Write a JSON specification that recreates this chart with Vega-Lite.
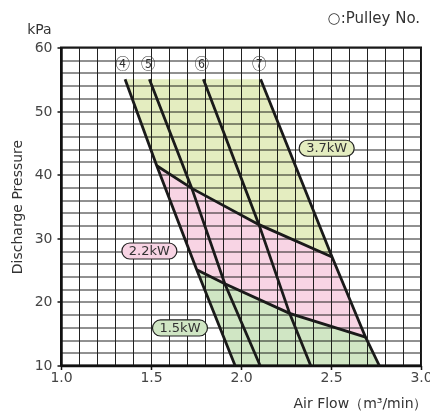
{
  "$schema": "https://vega.github.io/schema/vega-lite/v6.json",
  "width": 360,
  "height": 318,
  "autosize": {"type": "none"},
  "padding": {"left": 61, "top": 47.5, "right": 9, "bottom": 48.5},
  "background": "white",
  "config": {
    "view": {"stroke": "#111", "strokeWidth": 2},
    "font": "DejaVu Sans",
    "text": {"font": "DejaVu Sans"}
  },
  "datasets": {
    "regions": [
      {"region": "3.7kW", "ord": 1, "x": 1.356, "y": 55},
      {"region": "3.7kW", "ord": 2, "x": 2.109, "y": 55},
      {"region": "3.7kW", "ord": 3, "x": 2.506, "y": 27.05},
      {"region": "3.7kW", "ord": 4, "x": 2.1, "y": 32.15},
      {"region": "3.7kW", "ord": 5, "x": 1.727, "y": 37.85},
      {"region": "3.7kW", "ord": 6, "x": 1.532, "y": 41.4},
      {"region": "2.2kW", "ord": 1, "x": 1.532, "y": 41.4},
      {"region": "2.2kW", "ord": 2, "x": 1.727, "y": 37.85},
      {"region": "2.2kW", "ord": 3, "x": 2.1, "y": 32.15},
      {"region": "2.2kW", "ord": 4, "x": 2.506, "y": 27.05},
      {"region": "2.2kW", "ord": 5, "x": 2.692, "y": 14.45},
      {"region": "2.2kW", "ord": 6, "x": 2.27, "y": 18.2},
      {"region": "2.2kW", "ord": 7, "x": 1.91, "y": 22.85},
      {"region": "2.2kW", "ord": 8, "x": 1.754, "y": 25.05},
      {"region": "1.5kW", "ord": 1, "x": 1.754, "y": 25.05},
      {"region": "1.5kW", "ord": 2, "x": 1.91, "y": 22.85},
      {"region": "1.5kW", "ord": 3, "x": 2.27, "y": 18.2},
      {"region": "1.5kW", "ord": 4, "x": 2.692, "y": 14.45},
      {"region": "1.5kW", "ord": 5, "x": 2.768, "y": 10},
      {"region": "1.5kW", "ord": 6, "x": 1.967, "y": 10}
    ],
    "lines": [
      {"series": "p4", "ord": 1, "x": 1.356, "y": 55},
      {"series": "p4", "ord": 2, "x": 1.532, "y": 41.4},
      {"series": "p4", "ord": 3, "x": 1.754, "y": 25.05},
      {"series": "p4", "ord": 4, "x": 1.967, "y": 10},
      {"series": "p5", "ord": 1, "x": 1.491, "y": 55},
      {"series": "p5", "ord": 2, "x": 1.727, "y": 37.85},
      {"series": "p5", "ord": 3, "x": 1.91, "y": 22.85},
      {"series": "p5", "ord": 4, "x": 2.106, "y": 10},
      {"series": "p6", "ord": 1, "x": 1.791, "y": 55},
      {"series": "p6", "ord": 2, "x": 2.1, "y": 32.15},
      {"series": "p6", "ord": 3, "x": 2.27, "y": 18.2},
      {"series": "p6", "ord": 4, "x": 2.387, "y": 10},
      {"series": "p7", "ord": 1, "x": 2.109, "y": 55},
      {"series": "p7", "ord": 2, "x": 2.506, "y": 27.05},
      {"series": "p7", "ord": 3, "x": 2.692, "y": 14.45},
      {"series": "p7", "ord": 4, "x": 2.768, "y": 10},
      {"series": "k22", "ord": 1, "x": 1.532, "y": 41.4},
      {"series": "k22", "ord": 2, "x": 1.727, "y": 37.85},
      {"series": "k22", "ord": 3, "x": 2.1, "y": 32.15},
      {"series": "k22", "ord": 4, "x": 2.506, "y": 27.05},
      {"series": "k15", "ord": 1, "x": 1.754, "y": 25.05},
      {"series": "k15", "ord": 2, "x": 1.91, "y": 22.85},
      {"series": "k15", "ord": 3, "x": 2.27, "y": 18.2},
      {"series": "k15", "ord": 4, "x": 2.692, "y": 14.45}
    ],
    "kwlabels": [
      {"region": "3.7kW", "x": 2.476, "y": 44.16},
      {"region": "2.2kW", "x": 1.491, "y": 28.0},
      {"region": "1.5kW", "x": 1.661, "y": 15.9}
    ],
    "pulleylabels": [
      {"pulley": "④", "x": 1.343, "y": 57.3},
      {"pulley": "⑤", "x": 1.485, "y": 57.3},
      {"pulley": "⑥", "x": 1.782, "y": 57.3},
      {"pulley": "⑦", "x": 2.102, "y": 57.3}
    ],
    "notes": [
      {"note": "kPa", "x": 0.948, "y": 62.8},
      {"note": "○:Pulley No.", "x": 2.995, "y": 64.6}
    ]
  },
  "layer": [
    {
      "data": {"name": "regions"},
      "mark": {"type": "line", "strokeWidth": 0, "blend": "multiply", "interpolate": "linear-closed"},
      "encoding": {
        "x": {
          "field": "x", "type": "quantitative",
          "scale": {"domain": [1, 3], "nice": false, "zero": false},
          "axis": {
            "values": [1, 1.1, 1.2, 1.3, 1.4, 1.5, 1.6, 1.7, 1.8, 1.9, 2, 2.1, 2.2, 2.3, 2.4, 2.5, 2.6, 2.7, 2.8, 2.9, 3],
            "tickCount": 1000,
            "labelExpr": "abs(datum.value*2 - round(datum.value*2)) < 0.001 ? format(datum.value, '.1f') : ''",
            "labelOverlap": false,
            "labelBound": false,
            "labelFlush": false,
            "labelFontSize": 14,
            "labelColor": "#444",
            "labelPadding": 1,
            "tickSize": 4,
            "tickColor": "#111",
            "tickWidth": 1.5,
            "tickOpacity": {"condition": {"test": "abs(datum.value*2 - round(datum.value*2)) < 0.001", "value": 1}, "value": 0},
            "grid": true,
            "gridColor": "#222",
            "gridWidth": 1,
            "gridOpacity": 1,
            "domainColor": "#111",
            "domainWidth": 2.5,
            "title": "Air Flow（m³/min）",
            "titleFontSize": 14,
            "titleFontWeight": "normal",
            "titleColor": "#333",
            "titleX": 366,
            "titleY": 38,
            "titleAlign": "right",
            "titleAnchor": "end",
            "titleBaseline": "middle"
          }
        },
        "y": {
          "field": "y", "type": "quantitative",
          "scale": {"domain": [10, 60], "nice": false, "zero": false},
          "axis": {
            "values": [10, 12, 14, 16, 18, 20, 22, 24, 26, 28, 30, 32, 34, 36, 38, 40, 42, 44, 46, 48, 50, 52, 54, 56, 58, 60],
            "tickCount": 1000,
            "labelExpr": "datum.value % 10 == 0 ? format(datum.value, 'd') : ''",
            "labelOverlap": false,
            "labelBound": false,
            "labelFlush": false,
            "labelFontSize": 14,
            "labelColor": "#444",
            "labelPadding": 5,
            "tickSize": 4,
            "tickColor": "#111",
            "tickWidth": 1.5,
            "tickOpacity": {"condition": {"test": "datum.value % 10 == 0", "value": 1}, "value": 0},
            "grid": true,
            "gridColor": "#222",
            "gridWidth": 1,
            "gridOpacity": 1,
            "domainColor": "#111",
            "domainWidth": 2.5,
            "title": "Discharge Pressure",
            "titleFontSize": 14,
            "titleFontWeight": "normal",
            "titleColor": "#333",
            "titleX": -44,
            "titleY": 159,
            "titleAngle": 270,
            "titleAlign": "center",
            "titleBaseline": "middle"
          }
        },
        "order": {"field": "ord", "type": "quantitative"},
        "detail": {"field": "region"},
        "fill": {
          "field": "region", "type": "nominal",
          "scale": {"domain": ["3.7kW", "2.2kW", "1.5kW"], "range": ["#e4edc0", "#f8d4e4", "#d0e6c4"]},
          "legend": null
        }
      }
    },
    {
      "data": {"name": "lines"},
      "mark": {"type": "line", "color": "#1a1a1a", "strokeWidth": 2.8, "strokeCap": "butt"},
      "encoding": {
        "x": {"field": "x", "type": "quantitative"},
        "y": {"field": "y", "type": "quantitative"},
        "order": {"field": "ord", "type": "quantitative"},
        "detail": {"field": "series"}
      }
    },
    {
      "data": {"name": "kwlabels"},
      "mark": {
        "type": "point",
        "shape": "M -0.709 -0.291 L 0.709 -0.291 A 0.291 0.291 0 0 1 0.709 0.291 L -0.709 0.291 A 0.291 0.291 0 0 1 -0.709 -0.291 Z",
        "size": 3025,
        "filled": true,
        "opacity": 1,
        "stroke": "#222",
        "strokeWidth": 1.2
      },
      "encoding": {
        "x": {"field": "x", "type": "quantitative"},
        "y": {"field": "y", "type": "quantitative"},
        "fill": {
          "field": "region", "type": "nominal",
          "scale": {"domain": ["3.7kW", "2.2kW", "1.5kW"], "range": ["#e4edc0", "#f8d4e4", "#d0e6c4"]},
          "legend": null
        }
      }
    },
    {
      "data": {"name": "kwlabels"},
      "mark": {"type": "text", "fontSize": 13, "color": "#333", "baseline": "middle", "align": "center"},
      "encoding": {
        "x": {"field": "x", "type": "quantitative"},
        "y": {"field": "y", "type": "quantitative"},
        "text": {"field": "region"}
      }
    },
    {
      "data": {"name": "pulleylabels"},
      "mark": {"type": "text", "font": "Noto Sans CJK JP", "fontSize": 14.5, "color": "#333", "baseline": "middle", "align": "center"},
      "encoding": {
        "x": {"field": "x", "type": "quantitative"},
        "y": {"field": "y", "type": "quantitative"},
        "text": {"field": "pulley"}
      }
    },
    {
      "data": {"name": "notes"},
      "mark": {"type": "text", "fontSize": 14, "color": "#333", "align": "right", "baseline": "middle"},
      "encoding": {
        "x": {"field": "x", "type": "quantitative"},
        "y": {"field": "y", "type": "quantitative"},
        "text": {"field": "note"},
        "size": {"condition": {"test": "datum.note == 'kPa'", "value": 14}, "value": 15}
      }
    }
  ]
}
